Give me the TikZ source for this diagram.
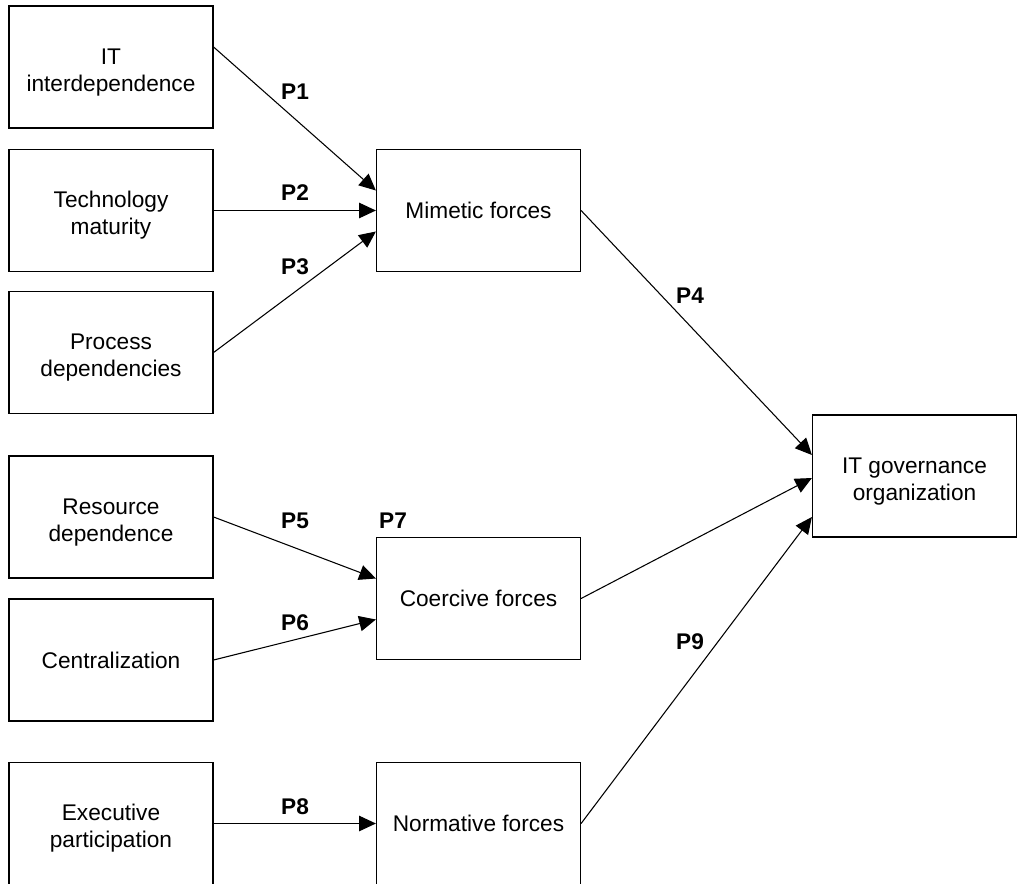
\documentclass[tikz,border=0pt]{standalone}
\usepackage{fontspec}
\setmainfont{Liberation Sans}
\usetikzlibrary{arrows.meta,calc,positioning}

\begin{document}
\begin{tikzpicture}[x=0.75pt,y=-0.75pt,
box/.style={rectangle,draw,line width=0.9pt,minimum width=153pt,minimum height=91.5pt,
  align=center,font=\fontsize{17}{20.25}\selectfont},
twoline/.style={box,text height=40pt,text depth=3.6pt},
lbl/.style={font=\fontsize{17}{20.25}\selectfont\bfseries},
conn/.style={-{Triangle[length=12.5pt,width=11.5pt]},line width=0.8pt}]
\useasboundingbox (0,0) rectangle (1017,884);
% left column
\node[twoline] (A) at (111,67) {IT\\interdependence};
\node[twoline] (B) at (111,210.5) {Technology\\maturity};
\node[twoline] (C) at (111,352.5) {Process\\dependencies};
\node[twoline] (D) at (111,517) {Resource\\dependence};
\node[box] (E) at (111,660) {Centralization};
\node[twoline] (F) at (111,823.5) {Executive\\participation};
% middle column
\node[box] (M) at (478.5,210.5) {Mimetic forces};
\node[box] (Co) at (478.5,598.5) {Coercive forces};
\node[box] (N) at (478.5,823.5) {Normative forces};
% outcome
\node[twoline] (G) at (914.5,476) {IT governance\\organization};
\draw[conn] ($(A.east)+(0,-20)$)--($(M.west)+(0,-20)$);
\draw[conn] (B.east)--(M.west);
\draw[conn] (C.east)--($(M.west)+(0,21)$);
\draw[conn] (D.east)--($(Co.west)+(0,-20)$);
\draw[conn] (E.east)--($(Co.west)+(0,21)$);
\draw[conn] (F.east)--(N.west);
\draw[conn] (M.east)--($(G.west)+(0,-21)$);
\draw[conn] (Co.east)--($(G.west)+(0,2)$);
\draw[conn] (N.east)--($(G.west)+(0,41)$);
% labels
\node[lbl] (P1) at (295,92) {P1};
\node[lbl] (P2) at (295,193) {P2};
\node[lbl] (P3) at (295,267) {P3};
\node[lbl] (P4) at (690,296) {P4};
\node[lbl] (P5) at (295,521) {P5};
\node[lbl] (P7) at (393,521) {P7};
\node[lbl] (P6) at (295,623) {P6};
\node[lbl] (P8) at (295,807) {P8};
\node[lbl] (P9) at (690,642) {P9};
\end{tikzpicture}
\end{document}
